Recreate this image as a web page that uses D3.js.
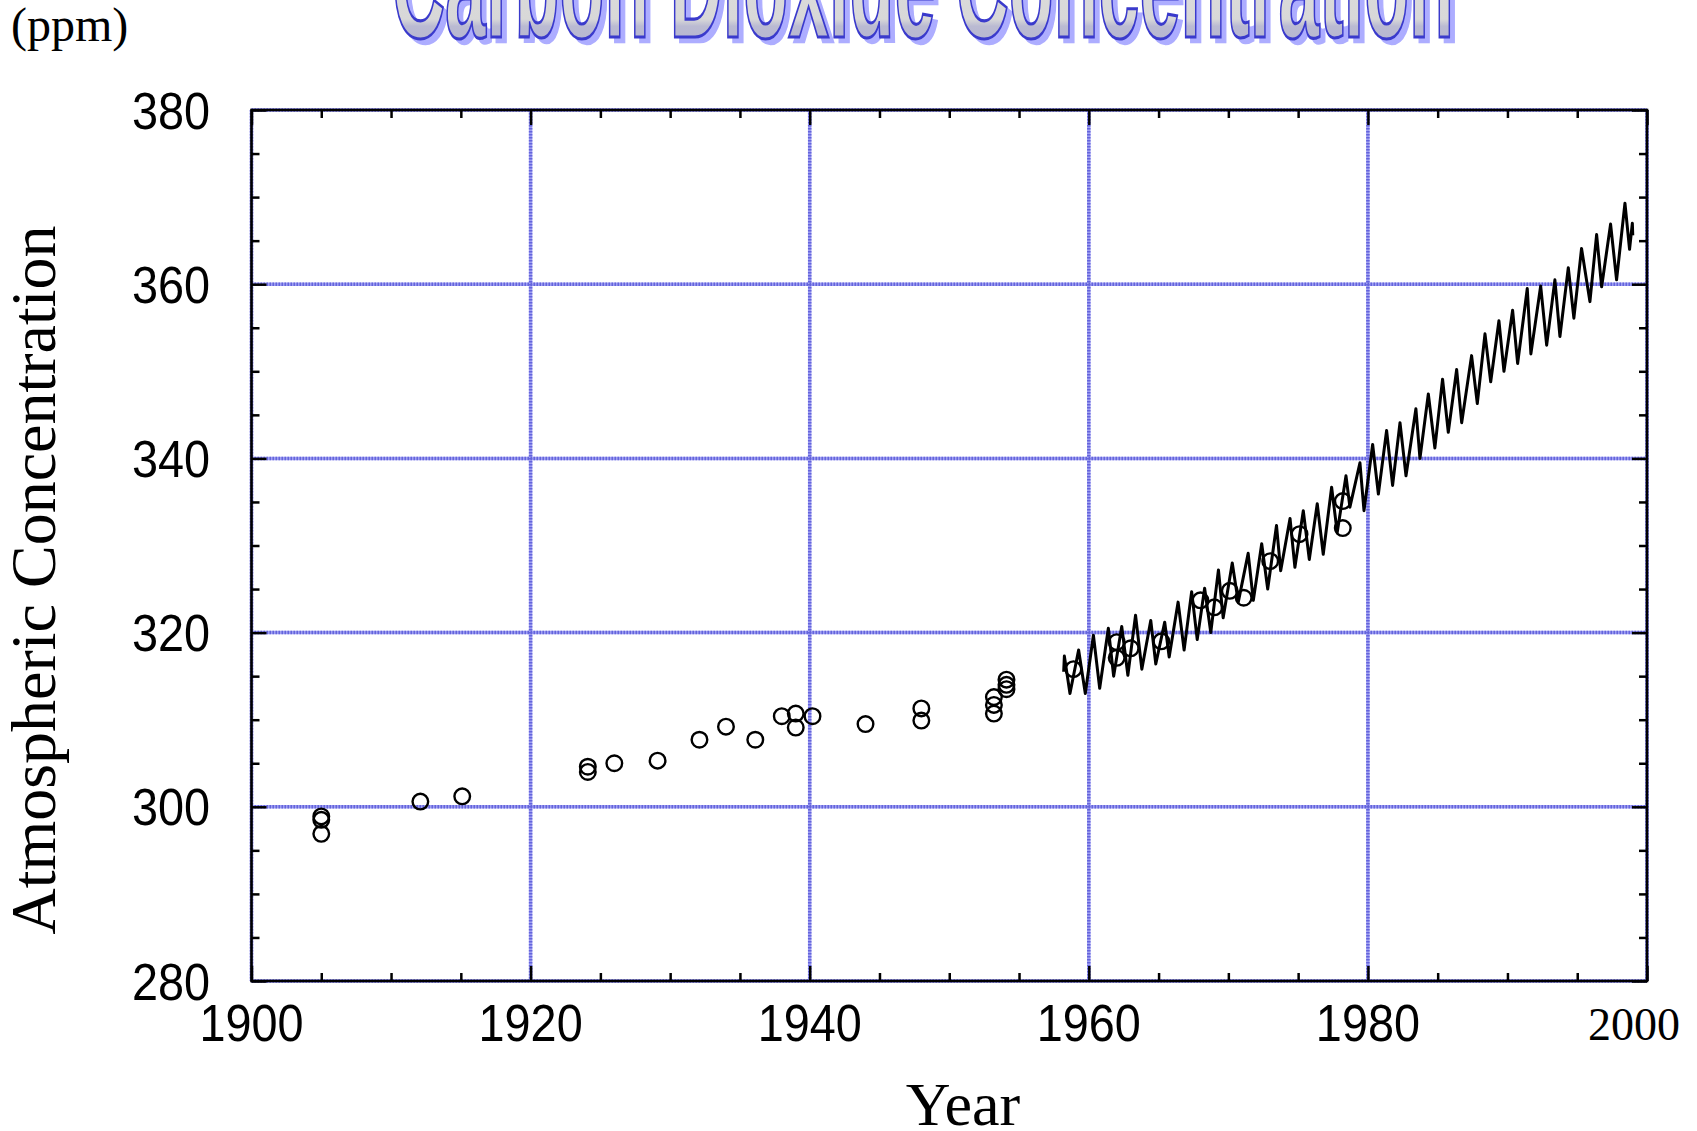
<!DOCTYPE html>
<html lang="en">
<head>
<meta charset="UTF-8">
<title>Carbon Dioxide Concentration</title>
<style>
    body { margin: 0; background: #fff; }
    svg { display: block; }
    .num { font-family: "Liberation Sans", Arial, sans-serif; font-size: 52px; fill: #000; }
    .serif { font-family: "Liberation Serif", "Times New Roman", serif; fill: #000; }
    .tick line { stroke: #000; stroke-width: 2.5px; }
</style>
</head>
<body>
<svg id="chart" width="1697" height="1131"></svg>
<script src="https://d3js.org/d3.v7.min.js"></script>
<script>
// early samples (open circles)
const sampleYears = [1905, 1905, 1905, 1912.1, 1915.1, 1924.1, 1924.1, 1926, 1929.1, 1932.1,
    1934, 1936.1, 1938, 1939, 1939, 1940.2, 1944, 1948, 1948, 1953.2,
    1953.2, 1953.2, 1954.1, 1954.1, 1954.1, 1958.9, 1962, 1962, 1963, 1965.2,
    1968, 1969, 1970.1, 1971.1, 1973, 1975.1, 1978.2, 1978.2];
const samplePpm = [298.9, 298.5, 296.9, 300.6, 301.2, 304.6, 304.0, 305.0, 305.3, 307.7,
    309.2, 307.7, 310.4, 310.7, 309.1, 310.4, 309.5, 311.3, 309.9, 312.6,
    311.7, 310.7, 314.6, 314.0, 313.5, 315.8, 318.9, 317.1, 318.2, 319.0,
    323.7, 322.9, 324.8, 324.0, 328.2, 331.3, 335.1, 332.0];

// continuous record: seasonal highs and lows
const recordTimes = [1958.20, 1958.25, 1958.65, 1959.27, 1959.75, 1960.33, 1960.78, 1961.40, 1961.78,
    1962.36, 1962.80, 1963.35, 1963.80, 1964.44, 1964.80, 1965.44, 1965.76, 1966.40, 1966.83,
    1967.37, 1967.77, 1968.30, 1968.74, 1969.29, 1969.63, 1970.28, 1970.71, 1971.42, 1971.79,
    1972.39, 1972.82, 1973.45, 1973.75, 1974.42, 1974.77, 1975.37, 1975.80, 1976.37, 1976.80,
    1977.40, 1977.80, 1978.43, 1978.71, 1979.43, 1979.72, 1980.34, 1980.75, 1981.34, 1981.77,
    1982.30, 1982.73, 1983.44, 1983.73, 1984.33, 1984.80, 1985.35, 1985.76, 1986.36, 1986.72,
    1987.43, 1987.84, 1988.39, 1988.80, 1989.39, 1989.75, 1990.37, 1990.73, 1991.42, 1991.68,
    1992.38, 1992.81, 1993.40, 1993.76, 1994.36, 1994.76, 1995.31, 1995.91, 1996.39, 1996.75,
    1997.39, 1997.82, 1998.42, 1998.75, 1998.95, 1998.98];
const recordPpm = [315.5, 317.3, 313.0, 318.0, 313.0, 319.7, 313.6, 320.5, 315.0,
    320.7, 315.1, 322.0, 315.8, 321.4, 316.4, 321.2, 317.2, 323.5, 318.0,
    324.7, 319.2, 325.1, 320.0, 327.2, 321.7, 328.0, 323.5, 329.1, 323.7,
    330.2, 325.0, 332.3, 327.1, 333.1, 327.5, 334.0, 328.4, 334.8, 329.0,
    336.7, 331.5, 338.0, 334.4, 339.5, 334.0, 341.6, 335.9, 343.2, 336.9,
    344.1, 338.0, 345.7, 340.0, 347.4, 341.2, 349.1, 343.0, 350.2, 344.1,
    351.8, 346.3, 354.3, 348.8, 355.8, 350.0, 357.0, 350.9, 359.5, 352.0,
    359.8, 353.0, 360.5, 354.0, 361.9, 356.1, 364.1, 358.0, 365.7, 359.7,
    366.9, 360.5, 369.3, 364.0, 367.0, 365.6];

const xTicks = [1900, 1920, 1940, 1960, 1980, 2000];
const yTicks = [280, 300, 320, 340, 360, 380];
const xMinor = [1905, 1910, 1915, 1925, 1930, 1935, 1945, 1950, 1955, 1965, 1970, 1975, 1985, 1990, 1995];
const yMinor = [285, 290, 295, 305, 310, 315, 325, 330, 335, 345, 350, 355, 365, 370, 375];

const svg = d3.select("#chart");
const x = d3.scaleLinear().domain([1900, 2000]).range([251.5, 1647]);
const y = d3.scaleLinear().domain([280, 380]).range([981, 110]);

// title (top is cut off in the original)
const defs = svg.append("defs");
const grad = defs.append("linearGradient").attr("id", "titleFill")
    .attr("x1", 0).attr("y1", 0).attr("x2", 0).attr("y2", 1);
grad.append("stop").attr("offset", "0").attr("stop-color", "#e2e2e2");
grad.append("stop").attr("offset", "0.71").attr("stop-color", "#d8d8d8");
grad.append("stop").attr("offset", "0.75").attr("stop-color", "#babad2");
grad.append("stop").attr("offset", "1").attr("stop-color", "#b0b0cc");

const title = svg.append("g").attr("transform", "translate(392,37) scale(1,2)");
title.append("text")
    .attr("x", 5).attr("y", 2.5)
    .attr("textLength", 1062).attr("lengthAdjust", "spacingAndGlyphs")
    .style("font-family", "'Liberation Sans', Arial, sans-serif")
    .style("font-weight", "bold").style("font-size", "80px")
    .style("fill", "#adadff").style("stroke", "#adadff").style("stroke-width", 2)
    .attr("vector-effect", "non-scaling-stroke")
    .text("Carbon Dioxide Concentration");
title.append("text")
    .attr("x", 0).attr("y", 0)
    .attr("textLength", 1062).attr("lengthAdjust", "spacingAndGlyphs")
    .style("font-family", "'Liberation Sans', Arial, sans-serif")
    .style("font-weight", "bold").style("font-size", "80px")
    .style("fill", "url(#titleFill)").style("stroke", "#3a3acc").style("stroke-width", 2.5)
    .attr("vector-effect", "non-scaling-stroke")
    .text("Carbon Dioxide Concentration");

svg.append("text").attr("class", "serif")
    .attr("x", 11).attr("y", 41)
    .style("font-size", "48px")
    .text("(ppm)");

// grid
const grid = svg.append("g");
function gridLines(color, dash) {
    grid.selectAll(null).data(xTicks).enter().append("line")
        .attr("x1", d => x(d)).attr("x2", d => x(d))
        .attr("y1", y(380)).attr("y2", y(280))
        .attr("stroke", color).attr("stroke-width", 3.5)
        .attr("stroke-dasharray", dash);
    grid.selectAll(null).data(yTicks).enter().append("line")
        .attr("x1", x(1900)).attr("x2", x(2000))
        .attr("y1", d => y(d)).attr("y2", d => y(d))
        .attr("stroke", color).attr("stroke-width", 3.5)
        .attr("stroke-dasharray", dash);
}
gridLines("#a0a0f2", null);
gridLines("#6464dc", "1.5,1.5");

// record line
const line = d3.line().x(d => x(d[0])).y(d => y(d[1]));
svg.append("path")
    .datum(recordTimes.map((t, i) => [t, recordPpm[i]]))
    .attr("d", line)
    .attr("fill", "none").attr("stroke", "#000")
    .attr("stroke-width", 3).attr("stroke-linejoin", "round");

// samples
svg.append("g").selectAll("circle")
    .data(sampleYears.map((t, i) => [t, samplePpm[i]]))
    .enter().append("circle")
    .attr("cx", d => x(d[0])).attr("cy", d => y(d[1]))
    .attr("r", 7.8)
    .attr("fill", "none").attr("stroke", "#000").attr("stroke-width", 2.4);

// frame
svg.append("rect")
    .attr("x", x(1900)).attr("y", y(380))
    .attr("width", x(2000) - x(1900)).attr("height", y(280) - y(380))
    .attr("fill", "none").attr("stroke", "#000").attr("stroke-width", 2.6);

// inward ticks on all four sides
function ticks(axisFn, scale, values, size, transform) {
    svg.append("g").attr("transform", transform)
        .call(axisFn(scale).tickValues(values).tickSize(-size).tickSizeOuter(0).tickFormat(""))
        .call(g => g.select(".domain").remove());
}
[[xTicks, 15], [xMinor, 8]].forEach(([v, s]) => {
    ticks(d3.axisBottom, x, v, s, `translate(0,${y(280)})`);
    ticks(d3.axisTop, x, v, s, `translate(0,${y(380)})`);
});
[[yTicks, 15], [yMinor, 8]].forEach(([v, s]) => {
    ticks(d3.axisLeft, y, v, s, `translate(${x(1900)},0)`);
    ticks(d3.axisRight, y, v, s, `translate(${x(2000)},0)`);
});

// tick labels
svg.append("g").selectAll("text").data(yTicks).enter().append("text")
    .attr("class", "num")
    .attr("text-anchor", "end")
    .attr("transform", d => `translate(210,${y(d) + 18.6}) scale(0.9,1)`)
    .text(d => d);
svg.append("g").selectAll("text").data(xTicks.filter(d => d < 2000)).enter().append("text")
    .attr("class", "num")
    .attr("text-anchor", "middle")
    .attr("transform", d => `translate(${x(d)},1041) scale(0.9,1)`)
    .text(d => d);
svg.append("text").attr("class", "serif")
    .attr("text-anchor", "middle")
    .attr("x", x(2000) - 13).attr("y", 1040)
    .style("font-size", "46px")
    .text("2000");

// axis titles
svg.append("text").attr("class", "serif")
    .attr("text-anchor", "middle")
    .attr("transform", "translate(55,580) rotate(-90)")
    .style("font-size", "64px")
    .text("Atmospheric Concentration");
svg.append("text").attr("class", "serif")
    .attr("text-anchor", "middle")
    .attr("x", 963).attr("y", 1125)
    .style("font-size", "62px")
    .text("Year");
</script>
</body>
</html>
